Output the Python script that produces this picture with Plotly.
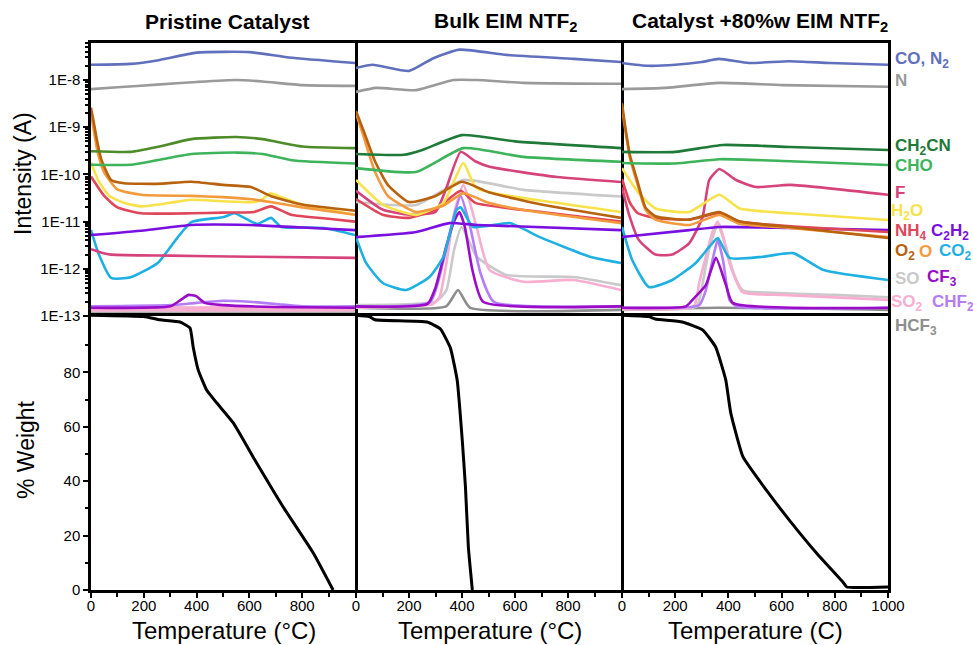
import plotly.graph_objects as go

# ================= DATA =================
# ---- Pristine Catalyst (top: intensity, A) ----
pri_co_n2_T = [0, 150, 250, 400, 600, 750, 1000]
pri_co_n2 = [2.1e-8, 2.2e-8, 2.6e-8, 3.8e-8, 3.9e-8, 3.0e-8, 2.3e-8]
pri_n_T = [0, 100, 250, 400, 550, 650, 800, 1000]
pri_n = [6.4e-9, 7.0e-9, 8.0e-9, 9.1e-9, 1.0e-8, 9.3e-9, 7.8e-9, 7.5e-9]
pri_ch2cn_T = [0, 150, 250, 380, 550, 650, 800, 1000]
pri_ch2cn = [3.1e-10, 3.0e-10, 3.8e-10, 5.6e-10, 6.2e-10, 5.6e-10, 3.9e-10, 3.6e-10]
pri_cho_T = [0, 150, 250, 380, 550, 650, 760, 1000]
pri_cho = [1.6e-10, 1.6e-10, 2.0e-10, 2.7e-10, 2.9e-10, 2.7e-10, 2.0e-10, 1.7e-10]
pri_o2_T = [0, 10, 25, 40, 76, 125, 250, 380, 500, 606, 680, 800, 1000]
pri_o2 = [2.6e-9, 1.3e-9, 4.5e-10, 2.0e-10, 7.6e-11, 6.5e-11, 6.3e-11, 7.0e-11, 6.0e-11, 5.4e-11, 3.5e-11, 2.3e-11, 1.7e-11]
pri_o_T = [0, 10, 25, 50, 100, 190, 380, 500, 600, 680, 800, 1000]
pri_o = [2.0e-9, 9e-10, 3e-10, 1.1e-10, 4.8e-11, 3.7e-11, 3.5e-11, 3.3e-11, 3.0e-11, 2.6e-11, 2.0e-11, 1.4e-11]
pri_h2o_T = [0, 30, 70, 125, 190, 300, 380, 500, 620, 650, 680, 720, 800, 1000]
pri_h2o = [1.8e-10, 7e-11, 3.5e-11, 2.5e-11, 2.1e-11, 2.5e-11, 2.9e-11, 2.7e-11, 2.6e-11, 3.0e-11, 4.0e-11, 3.3e-11, 2.3e-11, 1.4e-11]
pri_nh4_T = [0, 50, 100, 190, 380, 500, 617, 682, 757, 900, 1000]
pri_nh4 = [9e-11, 3.5e-11, 2.0e-11, 1.5e-11, 1.5e-11, 1.55e-11, 1.6e-11, 2.1e-11, 1.4e-11, 1.15e-11, 1.0e-11]
pri_c2h2_T = [0, 200, 380, 600, 800, 1000]
pri_c2h2 = [5.2e-12, 6.5e-12, 8.5e-12, 8.5e-12, 7.5e-12, 6.6e-12]
pri_f_T = [0, 40, 76, 300, 600, 1000]
pri_f = [2.6e-12, 2.2e-12, 2.0e-12, 1.9e-12, 1.8e-12, 1.7e-12]
pri_co2_T = [0, 30, 76, 150, 253, 329, 380, 503, 543, 600, 631, 682, 720, 800, 882, 1000]
pri_co2 = [6.6e-12, 2.0e-12, 6.4e-13, 6.6e-13, 1.33e-12, 4.7e-12, 9.8e-12, 1.25e-11, 1.5e-11, 1.05e-11, 8.9e-12, 1.2e-11, 7.7e-12, 7.5e-12, 7.3e-12, 5.2e-12]
pri_so2_T = [0, 200, 400, 600, 800, 1000]
pri_so2 = [1.4e-13, 1.45e-13, 1.4e-13, 1.45e-13, 1.4e-13, 1.45e-13]
pri_chf2_T = [0, 300, 400, 500, 600, 700, 800, 1000]
pri_chf2 = [1.6e-13, 1.7e-13, 1.9e-13, 2.1e-13, 2.0e-13, 1.8e-13, 1.6e-13, 1.6e-13]
pri_cf3_T = [0, 300, 340, 370, 400, 430, 500, 700, 1000]
pri_cf3 = [1.5e-13, 1.6e-13, 2.2e-13, 2.8e-13, 2.6e-13, 1.9e-13, 1.7e-13, 1.55e-13, 1.5e-13]
pri_so_T = [0, 1000]
pri_so = [1.3e-13, 1.3e-13]
pri_hcf3_T = [0, 1000]
pri_hcf3 = [1.25e-13, 1.25e-13]

# ---- Bulk EIM NTF2 ----
blk_co_n2_T = [0, 63, 201, 292, 390, 568, 822, 1000]
blk_co_n2 = [1.8e-8, 2.1e-8, 1.56e-8, 2.9e-8, 4.4e-8, 3.4e-8, 2.8e-8, 2.4e-8]
blk_n_T = [0, 76, 227, 367, 455, 632, 1000]
blk_n = [5.6e-9, 6.8e-9, 6.1e-9, 1.0e-8, 1.0e-8, 8.7e-9, 8.3e-9]
blk_ch2cn_T = [0, 180, 250, 400, 600, 1000]
blk_ch2cn = [2.7e-10, 2.6e-10, 3.3e-10, 6.8e-10, 5.0e-10, 3.6e-10]
blk_cho_T = [0, 227, 405, 632, 1000]
blk_cho = [1.36e-10, 1.13e-10, 3.6e-10, 2.35e-10, 1.85e-10]
blk_f_T = [0, 100, 200, 300, 340, 395, 450, 504, 758, 1000]
blk_f = [4.5e-11, 1.8e-11, 1.4e-11, 1.6e-11, 5e-11, 3.0e-10, 1.9e-10, 1.45e-10, 8.8e-11, 6.9e-11]
blk_h2o_T = [0, 100, 227, 330, 405, 455, 758, 1000]
blk_h2o = [7.6e-11, 2.3e-11, 1.38e-11, 2.5e-11, 1.75e-10, 5.1e-11, 2.5e-11, 1.6e-11]
blk_o2_T = [0, 30, 70, 120, 200, 300, 400, 500, 700, 1000]
blk_o2 = [2.2e-9, 8e-10, 2e-10, 6e-11, 2.6e-11, 3.5e-11, 7.0e-11, 4.2e-11, 2.3e-11, 1.2e-11]
blk_o_T = [0, 30, 70, 120, 227, 330, 405, 500, 632, 1000]
blk_o = [2.0e-9, 6e-10, 1.2e-10, 3.5e-11, 1.6e-11, 2.2e-11, 4.0e-11, 2.5e-11, 1.76e-11, 9.3e-12]
blk_nh4_T = [0, 100, 200, 300, 395, 450, 700, 1000]
blk_nh4 = [3e-11, 1.4e-11, 1.2e-11, 1.8e-11, 4.5e-11, 2.5e-11, 1.6e-11, 1.0e-11]
blk_so_upper_T = [0, 227, 405, 632, 1000]
blk_so_upper = [2.6e-11, 2.25e-11, 7.6e-11, 4.7e-11, 3.4e-11]
blk_c2h2_T = [0, 227, 352, 455, 1000]
blk_c2h2 = [4.7e-12, 6.0e-12, 9.3e-12, 8.5e-12, 6.6e-12]
blk_co2_T = [0, 38, 101, 189, 277, 330, 379, 395, 442, 580, 694, 883, 1000]
blk_co2 = [4.7e-12, 1.33e-12, 5e-13, 3.55e-13, 6.7e-13, 1.8e-12, 1.76e-11, 2.0e-11, 7.7e-12, 9.3e-12, 4.7e-12, 1.8e-12, 1.33e-12]
blk_so2_T = [0, 290, 315, 341, 370, 405, 430, 455, 504, 632, 821, 1000]
blk_so2 = [1.5e-13, 1.8e-13, 2.5e-13, 1.3e-12, 1.5e-11, 6.0e-11, 2.5e-11, 7.7e-12, 9.4e-13, 5.3e-13, 5.8e-13, 3.55e-13]
blk_so_T = [0, 300, 341, 370, 398, 430, 455, 568, 821, 1000]
blk_so = [1.7e-13, 2.0e-13, 3.5e-13, 2.5e-12, 7.7e-12, 3.5e-12, 1.8e-12, 7.4e-13, 6.7e-13, 4.5e-13]
blk_chf2_T = [0, 280, 330, 360, 395, 430, 470, 520, 1000]
blk_chf2 = [1.6e-13, 2.0e-13, 1.5e-12, 8e-12, 3.5e-11, 8e-12, 8e-13, 2e-13, 1.6e-13]
blk_cf3_T = [0, 270, 300, 340, 370, 390, 410, 440, 480, 1000]
blk_cf3 = [1.6e-13, 1.8e-13, 4e-13, 2.9e-12, 1.0e-11, 1.6e-11, 8e-12, 9e-13, 2.0e-13, 1.6e-13]
blk_hcf3_T = [0, 340, 385, 430, 1000]
blk_hcf3 = [1.5e-13, 1.6e-13, 3.55e-13, 1.5e-13, 1.35e-13]

# ---- Catalyst +80%w EIM NTF2 ----
cat_co_n2_T = [0, 98, 201, 300, 364, 477, 629, 780, 1000]
cat_co_n2 = [2.3e-8, 2.0e-8, 2.1e-8, 2.4e-8, 2.8e-8, 2.3e-8, 2.5e-8, 2.3e-8, 2.1e-8]
cat_n_T = [0, 163, 364, 603, 1000]
cat_n = [6.4e-9, 6.8e-9, 8.7e-9, 7.8e-9, 7.2e-9]
cat_ch2cn_T = [0, 200, 379, 632, 1000]
cat_ch2cn = [3.0e-10, 3.0e-10, 4.2e-10, 3.8e-10, 3.3e-10]
cat_cho_T = [0, 200, 366, 632, 1000]
cat_cho = [1.75e-10, 1.7e-10, 2.1e-10, 1.9e-10, 1.58e-10]
cat_f_T = [0, 25, 63, 126, 189, 253, 303, 328, 366, 429, 504, 632, 1000]
cat_f = [5.3e-11, 1.5e-11, 4.1e-12, 2.0e-12, 2.0e-12, 3.5e-12, 1.25e-11, 7.6e-11, 1.3e-10, 7.6e-11, 5.4e-11, 6.0e-11, 3.7e-11]
cat_h2o_T = [0, 63, 126, 253, 366, 442, 632, 1000]
cat_h2o = [1.36e-10, 4e-11, 1.9e-11, 1.6e-11, 3.7e-11, 1.9e-11, 1.5e-11, 1.08e-11]
cat_o2_T = [0, 15, 30, 57, 88, 126, 253, 366, 442, 632, 1000]
cat_o2 = [3.2e-9, 8e-10, 2.5e-10, 7.6e-11, 2.0e-11, 1.3e-11, 1.1e-11, 1.6e-11, 1.0e-11, 7.7e-12, 4.5e-12]
cat_o_T = [0, 15, 30, 57, 88, 126, 253, 366, 442, 632, 1000]
cat_o = [2.6e-9, 7e-10, 2.2e-10, 6.5e-11, 1.8e-11, 1.1e-11, 8.5e-12, 1.38e-11, 9e-12, 7.3e-12, 4.7e-12]
cat_nh4_T = [0, 30, 60, 126, 253, 366, 442, 632, 1000]
cat_nh4 = [8e-11, 2.5e-11, 1.5e-11, 1.2e-11, 1.1e-11, 1.5e-11, 1.0e-11, 8e-12, 6e-12]
cat_c2h2_T = [0, 253, 366, 632, 1000]
cat_c2h2 = [4.7e-12, 6.6e-12, 7.7e-12, 7.3e-12, 6.6e-12]
cat_co2_T = [0, 38, 101, 189, 277, 328, 360, 404, 530, 644, 758, 1000]
cat_co2 = [7.7e-12, 1.55e-12, 4.1e-13, 5.8e-13, 1.33e-12, 2.9e-12, 4.5e-12, 1.7e-12, 1.8e-12, 2.15e-12, 9.4e-13, 5.8e-13]
cat_so2_T = [0, 270, 290, 315, 340, 360, 380, 404, 454, 600, 1000]
cat_so2 = [1.4e-13, 1.6e-13, 5e-13, 1.8e-12, 6e-12, 1.0e-11, 5e-12, 1.33e-12, 3.2e-13, 2.8e-13, 2.2e-13]
cat_so_T = [0, 280, 300, 330, 360, 390, 420, 454, 568, 800, 1000]
cat_so = [1.4e-13, 1.6e-13, 4e-13, 3e-12, 8.5e-12, 3e-12, 8e-13, 3.5e-13, 3.1e-13, 2.8e-13, 2.5e-13]
cat_chf2_T = [0, 290, 315, 340, 360, 380, 404, 430, 1000]
cat_chf2 = [1.5e-13, 1.7e-13, 3.5e-13, 1.5e-12, 4.1e-12, 1.5e-12, 2.2e-13, 1.6e-13, 1.5e-13]
cat_cf3_T = [0, 240, 265, 315, 353, 391, 416, 1000]
cat_cf3 = [1.5e-13, 1.6e-13, 2.2e-13, 4.5e-13, 1.7e-12, 4.5e-13, 1.9e-13, 1.5e-13]
cat_hcf3_T = [0, 360, 1000]
cat_hcf3 = [1.35e-13, 1.5e-13, 1.35e-13]

# ---- % Weight (bottom) ----
w_pri_T = [0, 200, 261, 337, 375, 387, 406, 438, 476, 539, 614, 666, 728, 842, 917]
w_pri = [101.0, 100.5, 99.3, 98.5, 96.3, 89.3, 80.9, 73.5, 68.8, 61.4, 48.9, 40.4, 30.5, 13.6, 0.0]
w_blk_T = [0, 50, 72, 268, 318, 356, 382, 401, 413, 424, 439]
w_blk = [101.0, 100.5, 99.3, 98.5, 96.0, 89.0, 77.0, 55.0, 37.9, 15.8, 0.0]
w_cat_T = [0, 100, 125, 227, 303, 352, 390, 409, 455, 542, 629, 731, 833, 845, 1000]
w_cat = [101.0, 100.5, 99.6, 98.5, 95.6, 89.3, 77.2, 65.0, 48.9, 36.8, 25.7, 13.6, 2.6, 1.1, 1.1]

panel_titles = ["Pristine Catalyst", "Bulk EIM NTF<sub>2</sub>", "Catalyst +80%w EIM NTF<sub>2</sub>"]
x_titles = ["Temperature (°C)", "Temperature (°C)", "Temperature (C)"]
log_tick_vals = [1e-13, 1e-12, 1e-11, 1e-10, 1e-9, 1e-8]
log_tick_text = ["1E-13", "1E-12", "1E-11", "1E-10", "1E-9", "1E-8"]
weight_ticks = [0, 20, 40, 60, 80]

# ================= STYLE =================
C = {
    "co_n2": "#6170BD", "n": "#9A9A9A", "ch2cn": "#1F7A39", "ch2cn_pri": "#4E8C2A",
    "cho": "#3DB35A", "f": "#D6437A", "h2o": "#F7E24A", "nh4": "#E0465A",
    "c2h2": "#7A10E0", "o2": "#B8620E", "o": "#F39A3C", "co2": "#1FB0E2",
    "so": "#C9C9C9", "cf3": "#9A0CC8", "so2": "#F7AED0", "chf2": "#B47CF7",
    "hcf3": "#8E8E8E",
}

def panel(prefix):
    g = globals()
    order = ["hcf3", "so", "so2", "chf2", "cf3", "co2", "f", "c2h2", "nh4",
             "h2o", "o", "o2", "cho", "ch2cn", "n", "co_n2"]
    out = []
    if prefix == "blk":
        out.append((g["blk_so_upper_T"], g["blk_so_upper"], C["so"], 2.6))
    for k in order:
        col = C["ch2cn_pri"] if (k == "ch2cn" and prefix == "pri") else C[k]
        w = 5.5 if (prefix == "pri" and k == "so2") else 2.6
        out.append((g[f"{prefix}_{k}_T"], g[f"{prefix}_{k}"], col, w))
    return out

fig = go.Figure()
prefixes = ["pri", "blk", "cat"]
weights = [(w_pri_T, w_pri), (w_blk_T, w_blk), (w_cat_T, w_cat)]

for i, p in enumerate(prefixes):
    xa = "x" if i == 0 else f"x{i+1}"
    ya = "y" if i == 0 else f"y{i+1}"
    for T, V, col, w in panel(p):
        fig.add_trace(go.Scatter(x=T, y=V, mode="lines", xaxis=xa, yaxis=ya,
                                 line=dict(color=col, width=w, shape="spline",
                                           smoothing=0.5),
                                 hoverinfo="skip"))
    xb, yb = f"x{i+4}", f"y{i+4}"
    fig.add_trace(go.Scatter(x=weights[i][0], y=weights[i][1], mode="lines",
                             xaxis=xb, yaxis=yb,
                             line=dict(color="black", width=3, shape="spline",
                                       smoothing=0.4),
                             hoverinfo="skip"))

W, H = 973, 645
px = lambda x: x / W
py = lambda y: 1 - y / H
xdoms = [[px(91), px(355)], [px(356), px(621)], [px(622), px(888)]]
ytop = [py(316), py(43)]
ybot = [py(590), py(316)]

base = dict(showline=True, linecolor="black", linewidth=2.5, automargin=False,
            showgrid=False, zeroline=False, tickcolor="black", tickwidth=2,
            ticklen=5, tickfont=dict(size=15, color="black"))

layout = dict(width=W, height=H, margin=dict(l=0, r=0, t=0, b=0, autoexpand=False),
              plot_bgcolor="white", paper_bgcolor="white", showlegend=False,
              font=dict(family="Liberation Sans, Arial, sans-serif", color="black"))

minor_log = [k * 10.0 ** e for e in range(-13, -7) for k in range(2, 10)]
for i in range(3):
    n_top = "" if i == 0 else str(i + 1)
    n_bot = str(i + 4)
    layout["xaxis" + n_top] = dict(base, domain=xdoms[i], range=[0, 1000], side="top",
                                   mirror=False, anchor="y" + n_top, ticks="",
                                   showticklabels=False)
    ytop_ax = dict(base, domain=ytop, type="log", range=[-13, -7.216],
                   anchor="x" + n_top)
    if i == 0:
        ytop_ax.update(mirror=True, ticks="outside", tickmode="array",
                       tickvals=log_tick_vals, ticktext=log_tick_text,
                       minor=dict(tickmode="array", tickvals=minor_log, ticks="outside",
                                  ticklen=3, tickwidth=1.5, tickcolor="black"))
    else:
        ytop_ax.update(side="right", mirror=False, ticks="", showticklabels=False)
    layout["yaxis" + n_top] = ytop_ax
    xt = [0, 200, 400, 600, 800] + ([1000] if i == 2 else [])
    layout["xaxis" + n_bot] = dict(base, domain=xdoms[i], range=[0, 1000], mirror=True,
                                   anchor="y" + n_bot, ticks="outside", tickmode="array",
                                   tickvals=xt, ticklabelstandoff=-5,
                                   minor=dict(tickmode="array", tickvals=[100, 300, 500, 700, 900],
                                              ticks="outside", ticklen=4, tickwidth=2,
                                              tickcolor="black"))
    yb_ax = dict(base, domain=ybot, range=[0, 100.7], anchor="x" + n_bot)
    if i == 0:
        yb_ax.update(mirror=True, ticks="outside", tickmode="array", tickvals=weight_ticks,
                     minor=dict(tickmode="array", tickvals=[10, 30, 50, 70, 90],
                                ticks="outside", ticklen=3, tickwidth=1.5,
                                tickcolor="black"))
    else:
        yb_ax.update(side="right", mirror=False, ticks="", showticklabels=False)
    layout["yaxis" + n_bot] = yb_ax

fig.update_layout(**layout)

ann = []
title_x = [227, 506, 760]
for i in range(3):
    ann.append(dict(text="<b>" + panel_titles[i] + "</b>", x=px(title_x[i]), y=py(22),
                    xref="paper", yref="paper", showarrow=False,
                    font=dict(size=21, color="black"), xanchor="center", yanchor="middle"))
    ann.append(dict(text=x_titles[i], x=px([224, 490, 755][i]), y=py(630),
                    xref="paper", yref="paper", showarrow=False,
                    font=dict(size=24, color="black"), xanchor="center", yanchor="middle"))
ann.append(dict(text="Intensity (A)", x=px(23), y=py(174), xref="paper", yref="paper",
                showarrow=False, textangle=-90, font=dict(size=23, color="black"),
                xanchor="center", yanchor="middle"))
ann.append(dict(text="% Weight", x=px(26), y=py(450), xref="paper", yref="paper",
                showarrow=False, textangle=-90, font=dict(size=23, color="black"),
                xanchor="center", yanchor="middle"))

labels = [
    ("CO, N<sub>2</sub>", C["co_n2"], 893, 60),
    ("N", C["n"], 893, 80),
    ("CH<sub>2</sub>CN", C["ch2cn"], 893, 147),
    ("CHO", C["cho"], 893, 166),
    ("F", C["f"], 893, 192),
    ("H<sub>2</sub>O", C["h2o"], 889, 212),
    ("NH<sub>4</sub>", C["nh4"], 893, 232),
    ("C<sub>2</sub>H<sub>2</sub>", C["c2h2"], 929, 232),
    ("O<sub>2</sub>", C["o2"], 893, 252),
    ("O", C["o"], 917, 252),
    ("CO<sub>2</sub>", C["co2"], 937, 252),
    ("SO", C["so"], 893, 278),
    ("CF<sub>3</sub>", C["cf3"], 925, 278),
    ("SO<sub>2</sub>", C["so2"], 889, 303),
    ("CHF<sub>2</sub>", C["chf2"], 930, 303),
    ("HCF<sub>3</sub>", C["hcf3"], 893, 327),
]
for t, col, x, y in labels:
    ann.append(dict(text="<b>" + t + "</b>", x=px(x), y=py(y), xref="paper", yref="paper",
                    showarrow=False, font=dict(size=17, color=col),
                    xanchor="left", yanchor="middle"))
fig.update_layout(annotations=ann)

fig.write_html("out.html", config={"displayModeBar": False},
               post_script="document.body.style.margin='0px';document.body.style.padding='0px';")
